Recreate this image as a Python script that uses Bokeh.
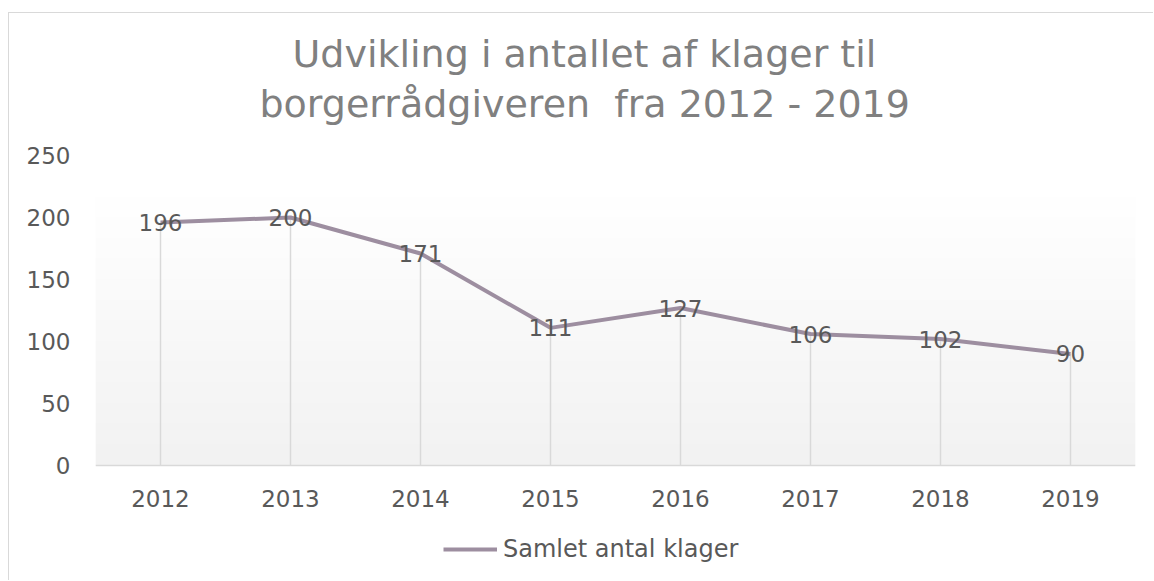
import numpy as np
from bokeh.plotting import figure
from bokeh.models import (Range1d, FixedTicker, Title, Legend, LegendItem,
                          ColumnDataSource, LabelSet)
from bokeh.core.properties import value
from bokeh.embed import file_html
from bokeh.resources import INLINE

# ---- data ----
years = ["2012", "2013", "2014", "2015", "2016", "2017", "2018", "2019"]
klager = [196, 200, 171, 111, 127, 106, 102, 90]
y_ticks = [0, 50, 100, 150, 200, 250]
title_line1 = "Udvikling i antallet af klager til"
title_line2 = "borgerrådgiveren\u00a0 fra 2012 - 2019"
series_name = "Samlet antal klager"

# ---- style ----
FONT = "DejaVu Sans"
LINE_COLOR = "#9d8ea0"
TEXT_COLOR = "#595959"
TITLE_COLOR = "#808080"
GRID_COLOR = "#d9d9d9"
FS = "23px"
Y_MAX = 250
GRAD_TOP = 217
PLOT_PX = 310          # pixel height of the 0..Y_MAX value area
EXTRA_PX = 100         # room under the value axis for tick labels + legend
y_bottom = -Y_MAX * EXTRA_PX / PLOT_PX

xs = list(range(len(years)))
x_lo, x_hi = -0.5, len(years) - 0.5
src = ColumnDataSource(dict(x=xs, y=klager, lab=[str(v) for v in klager]))

p = figure(width=1144, height=567, frame_width=1040, frame_height=PLOT_PX + EXTRA_PX,
           output_backend="svg", toolbar_location=None,
           x_range=Range1d(x_lo, x_hi), y_range=Range1d(y_bottom, Y_MAX),
           min_border_left=86, min_border_right=18, min_border_top=142,
           min_border_bottom=15)
p.margin = (12, 0, 0, 8)
p.styles = {"border-left": "1.5px solid #d9d9d9", "border-top": "1.5px solid #d9d9d9"}
p.outline_line_color = None
p.grid.visible = False
p.background_fill_color = "white"
p.border_fill_color = "white"

# gradient background of the plot area
n = 256
t = np.linspace(0, 1, n)  # 0 bottom -> 1 top
g = (242 + (255 - 242) * t).astype(np.uint8)
img = np.zeros((n, 1, 4), dtype=np.uint8)
img[:, 0, 0] = g
img[:, 0, 1] = g
img[:, 0, 2] = g
img[:, 0, 3] = 255
p.image_rgba(image=[img.view(np.uint32).reshape(n, 1)], x=x_lo, y=0,
             dw=x_hi - x_lo, dh=GRAD_TOP)

# drop lines
p.segment(x0="x", y0=0, x1="x", y1="y", source=src, line_color=GRID_COLOR,
          line_width=1.5)

# main line
r = p.line("x", "y", source=src, line_color=LINE_COLOR, line_width=4)

# data labels
labels = LabelSet(x="x", y="y", text="lab", source=src, text_align="center",
                  text_baseline="middle", text_font=value(FONT), text_font_size=FS,
                  text_color=TEXT_COLOR)
p.add_layout(labels)

# axes
p.xaxis.fixed_location = 0
p.xaxis.ticker = FixedTicker(ticks=xs)
p.xaxis.major_label_overrides = {i: y for i, y in enumerate(years)}
p.xaxis.axis_line_color = GRID_COLOR
p.xaxis.axis_line_width = 1.5
p.xaxis.major_tick_line_color = None
p.xaxis.minor_tick_line_color = None
p.xaxis.major_label_standoff = 18
p.xaxis.major_label_text_font = FONT
p.xaxis.major_label_text_font_size = FS
p.xaxis.major_label_text_color = TEXT_COLOR

p.yaxis.ticker = FixedTicker(ticks=y_ticks)
p.yaxis.axis_line_color = None
p.yaxis.major_tick_line_color = None
p.yaxis.minor_tick_line_color = None
p.yaxis.major_tick_out = 0
p.yaxis.major_tick_in = 0
p.yaxis.major_label_standoff = 25
p.yaxis.major_label_text_font = FONT
p.yaxis.major_label_text_font_size = FS
p.yaxis.major_label_text_color = TEXT_COLOR

# titles (added bottom line first)
t2 = Title(text=title_line2, align="left", text_font=FONT, text_font_size="38px",
           text_font_style="normal", text_color=TITLE_COLOR, offset=164, standoff=59)
t1 = Title(text=title_line1, align="left", text_font=FONT, text_font_size="38px",
           text_font_style="normal", text_color=TITLE_COLOR, offset=197, standoff=-50)
p.add_layout(t2, "above")
p.add_layout(t1, "above")

# legend (inside the extended frame, below the category labels)
legend = Legend(items=[LegendItem(label=series_name, renderers=[r])],
                location=(348, 2), glyph_width=54, glyph_height=20,
                label_standoff=6, padding=0, margin=0, border_line_color=None,
                background_fill_alpha=0, label_text_font=FONT,
                label_text_font_size="24px", label_text_color=TEXT_COLOR)
p.add_layout(legend, "center")

open("out.html", "w").write(file_html(p, INLINE))
